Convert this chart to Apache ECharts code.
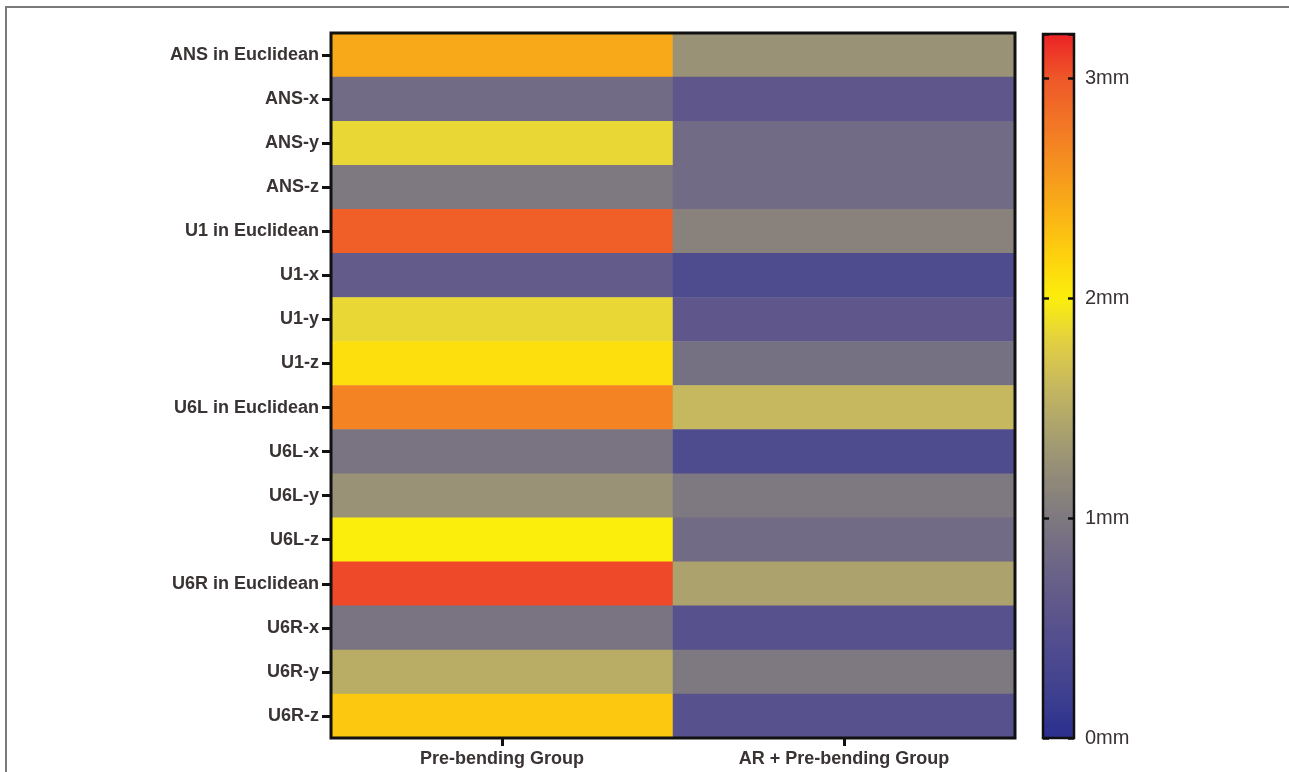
<!DOCTYPE html>
<html>
<head>
<meta charset="utf-8">
<script src="https://cdn.jsdelivr.net/npm/echarts@6/dist/echarts.min.js"></script>
<style>
	html, body { margin: 0; padding: 0; background: #fff; }
	#chart { width: 1289px; height: 772px; }
</style>
</head>
<body>
<div id="chart"></div>
<script>
	// categories
	var groups = ['Pre-bending Group', 'AR + Pre-bending Group'];
	var measures = ['ANS in Euclidean', 'ANS-x', 'ANS-y', 'ANS-z',
		'U1 in Euclidean', 'U1-x', 'U1-y', 'U1-z',
		'U6L in Euclidean', 'U6L-x', 'U6L-y', 'U6L-z',
		'U6R in Euclidean', 'U6R-x', 'U6R-y', 'U6R-z'];
	// values in mm
	var preBending = [2.45, 0.85, 1.85, 1.0, 2.95, 0.65, 1.85, 2.1, 2.7, 0.95, 1.25, 2.0, 3.05, 0.95, 1.5, 2.25];
	var arPreBending = [1.25, 0.6, 0.85, 0.85, 1.1, 0.4, 0.6, 0.9, 1.6, 0.4, 1.0, 0.85, 1.4, 0.5, 1.0, 0.5];
	// colour bar
	var scaleMin = 0;
	var scaleMax = 3.2;
	var scaleTicks = [0, 1, 2, 3];
	var rampColors = ['#2b2e8e', '#3e408f', '#4f4b8f', '#5f578b', '#6e6786', '#7e7880', '#938c78',
		'#aba26e', '#c6b85e', '#e1cf42', '#fcee0c', '#fdd00e', '#f9b017', '#f5921f', '#f27526', '#ef5729', '#ec2227'];

	var heatData = [];
	measures.forEach(function (m, i) {
		heatData.push([0, i, preBending[i]]);
		heatData.push([1, i, arPreBending[i]]);
	});

	// layout
	var W = 1289, H = 772;
	var plot = { left: 331, top: 33, right: 1015, bottom: 738 };
	var bar = { left: 1043, top: 34, right: 1074, bottom: 738 };
	var fontFamily = "'Liberation Sans', Arial, sans-serif";
	var textColor = '#3a3333';

	var chart = echarts.init(document.getElementById('chart'));
	var option = {
		animation: false,
		backgroundColor: '#fff',
		grid: [{
			left: plot.left, top: plot.top,
			width: plot.right - plot.left, height: plot.bottom - plot.top
		}, {
			left: bar.left, top: bar.top,
			width: bar.right - bar.left, height: bar.bottom - bar.top
		}],
		xAxis: [{
			type: 'category',
			gridIndex: 0,
			data: groups,
			axisLine: { show: false },
			axisTick: { show: true, alignWithLabel: true, length: 8, lineStyle: { color: '#111', width: 3 } },
			axisLabel: { margin: 12, color: textColor, fontFamily: fontFamily, fontWeight: 'bold', fontSize: 18 },
			splitLine: { show: false }
		}, {
			// second axis only for the part of the tick inside the plot
			type: 'category',
			gridIndex: 0,
			position: 'bottom',
			data: groups,
			axisLine: { show: false },
			axisTick: { show: true, inside: true, alignWithLabel: true, length: 7, lineStyle: { color: '#111', width: 3 } },
			axisLabel: { show: false },
			splitLine: { show: false }
		}, {
			type: 'value',
			gridIndex: 1,
			show: false
		}],
		yAxis: [{
			type: 'category',
			gridIndex: 0,
			data: measures,
			inverse: true,
			axisLine: { show: false },
			axisTick: { show: true, alignWithLabel: true, length: 9, lineStyle: { color: '#111', width: 3 } },
			axisLabel: { margin: 12, color: textColor, fontFamily: fontFamily, fontWeight: 'bold', fontSize: 18 },
			splitLine: { show: false }
		}, {
			type: 'value',
			gridIndex: 1,
			position: 'left',
			min: scaleMin, max: scaleMax, interval: 1,
			z: 10,
			axisLine: { show: false },
			axisTick: { show: true, inside: true, length: 6, lineStyle: { color: '#111', width: 2.5 } },
			axisLabel: { show: false },
			splitLine: { show: false }
		}, {
			type: 'value',
			gridIndex: 1,
			position: 'right',
			min: scaleMin, max: scaleMax, interval: 1,
			z: 10,
			axisLine: { show: false },
			axisTick: { show: true, inside: true, length: 6, lineStyle: { color: '#111', width: 2.5 } },
			axisLabel: {
				margin: 11, color: textColor, fontFamily: fontFamily, fontSize: 20,
				formatter: function (v) {
					return scaleTicks.indexOf(v) >= 0 ? v + 'mm' : '';
				}
			},
			splitLine: { show: false }
		}],
		visualMap: {
			type: 'continuous',
			seriesIndex: 0,
			min: scaleMin,
			max: scaleMax,
			calculable: false,
			hoverLink: false,
			orient: 'vertical',
			left: bar.left,
			top: bar.top,
			padding: 0,
			itemWidth: bar.right - bar.left,
			itemHeight: bar.bottom - bar.top,
			text: null,
			z: 2,
			inRange: { color: rampColors }
		},
		series: [{
			type: 'heatmap',
			xAxisIndex: 0,
			yAxisIndex: 0,
			data: heatData,
			itemStyle: { borderWidth: 0 },
			emphasis: { disabled: true }
		}],
		graphic: [{
			type: 'rect',
			z: 100,
			shape: { x: plot.left, y: plot.top, width: plot.right - plot.left, height: plot.bottom - plot.top },
			style: { fill: null, stroke: '#111', lineWidth: 3 }
		}, {
			type: 'rect',
			z: 100,
			shape: { x: bar.left, y: bar.top, width: bar.right - bar.left, height: bar.bottom - bar.top },
			style: { fill: null, stroke: '#111', lineWidth: 2.5 }
		}, {
			type: 'line',
			z: 100,
			shape: { x1: 5, y1: 7, x2: W, y2: 7 },
			style: { stroke: '#7a7a7a', lineWidth: 2 }
		}, {
			type: 'line',
			z: 100,
			shape: { x1: 6, y1: 6, x2: 6, y2: H },
			style: { stroke: '#7a7a7a', lineWidth: 2 }
		}]
	};
	chart.setOption(option);
</script>
</body>
</html>
